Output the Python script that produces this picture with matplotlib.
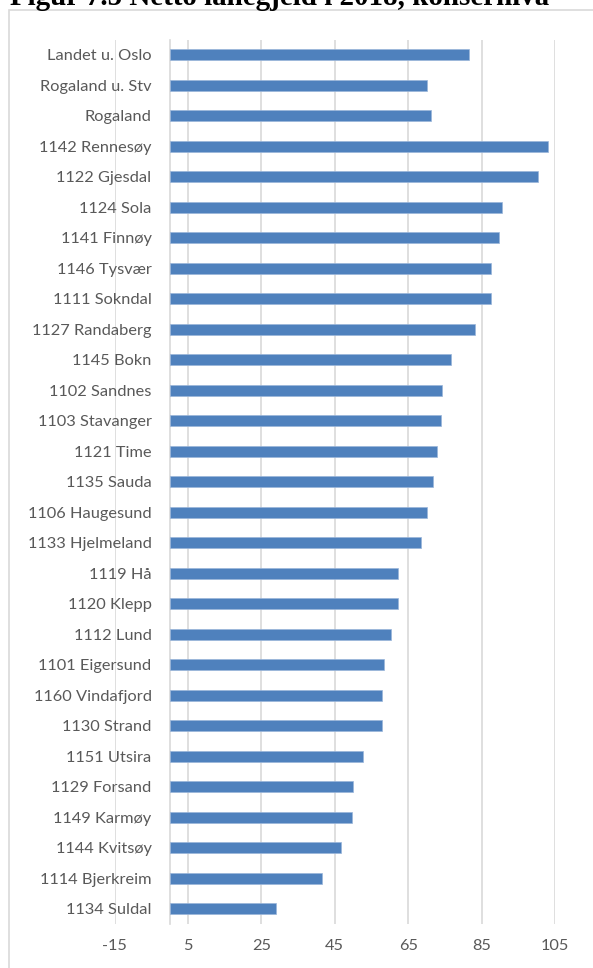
import matplotlib.pyplot as plt
from matplotlib.patches import Rectangle

kommuner = [
    'Landet u. Oslo', 'Rogaland u. Stv', 'Rogaland', '1142 Rennesøy',
    '1122 Gjesdal', '1124 Sola', '1141 Finnøy', '1146 Tysvær',
    '1111 Sokndal', '1127 Randaberg', '1145 Bokn', '1102 Sandnes',
    '1103 Stavanger', '1121 Time', '1135 Sauda', '1106 Haugesund',
    '1133 Hjelmeland', '1119 Hå', '1120 Klepp', '1112 Lund',
    '1101 Eigersund', '1160 Vindafjord', '1130 Strand', '1151 Utsira',
    '1129 Forsand', '1149 Karmøy', '1144 Kvitsøy', '1114 Bjerkreim',
    '1134 Suldal',
]
laanegjeld = [
    81.5, 70.2, 71.3, 103.2,
    100.5, 90.5, 89.7, 87.6,
    87.6, 83.3, 76.8, 74.2,
    74.0, 72.8, 71.8, 70.1,
    68.4, 62.3, 62.3, 60.2,
    58.5, 58.0, 57.9, 52.8,
    50.0, 49.7, 46.7, 41.5,
    29.1,
]
xticks = [-15, 5, 25, 45, 65, 85, 105]

W, H = 593, 968
fig = plt.figure(figsize=(W / 100, H / 100), dpi=100)
grey = '#595959'

# title is cut off at the top of the picture, only the lower part shows
fig.text(10 / W, 1 - 5 / H, 'Figur 7.5 Netto lånegjeld i 2018, konsernivå',
         fontfamily='Liberation Serif', fontweight='bold', fontsize=20.9,
         va='baseline', ha='left', color='black')

# chart frame
fig.patches.append(Rectangle((9 / W, -0.05), 1.2, 1.05 - 9.5 / H,
                             transform=fig.transFigure, fill=False,
                             edgecolor='#D9D9D9', linewidth=1.2))

ax = fig.add_axes([114.5 / W, 1 - 924 / H, (555 - 114.5) / W, (924 - 39.5) / H])
ypos = list(range(len(kommuner)))
ax.barh(ypos, laanegjeld, height=0.37, color='#4F81BD',
        edgecolor='#9AB5DA', linewidth=0.5, zorder=3)

ax.set_xlim(-15, 105)
ax.set_ylim(len(kommuner) - 0.5, -0.5)
ax.set_xticks(xticks)
ax.set_xticklabels([str(t) for t in xticks])
ax.set_yticks(ypos)
ax.set_yticklabels(kommuner)
ax.grid(axis='x', color='#D9D9D9', linewidth=1.2, zorder=0)

for s in ['top', 'right', 'bottom']:
    ax.spines[s].set_visible(False)
ax.spines['left'].set_position(('data', 0))
ax.spines['left'].set_color('#D9D9D9')
ax.spines['left'].set_linewidth(1.2)

ax.tick_params(axis='y', length=0, pad=13, labelsize=11.8, labelcolor=grey)
ax.tick_params(axis='x', length=0, pad=11, labelsize=11.8, labelcolor=grey)
for lab in ax.get_xticklabels() + ax.get_yticklabels():
    lab.set_fontfamily('Lato')

fig.savefig('out.png', dpi=100)
